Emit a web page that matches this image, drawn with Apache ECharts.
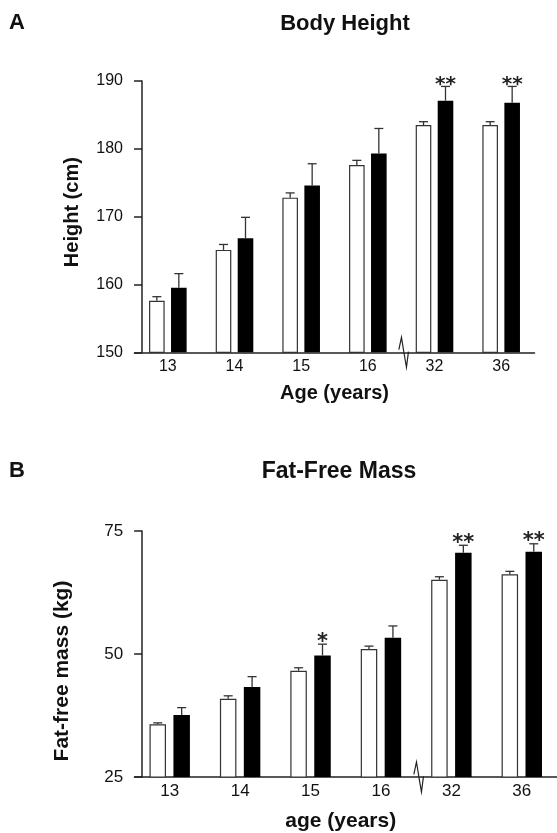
<!DOCTYPE html>
<html>
<head>
<meta charset="utf-8">
<script src="https://cdn.jsdelivr.net/npm/echarts@6/dist/echarts.min.js"></script>
<style>
html,body{margin:0;padding:0;background:#fff;}
#main{width:557px;height:833px;}
</style>
</head>
<body>
<div id="main"></div>
<script>
// ---- data ----
const categories = ['13', '14', '15', '16', '32', '36'];
const heightTicks = [150, 160, 170, 180, 190];
const heightWhite = [157.6, 165.1, 172.8, 177.6, 183.5, 183.5];
const heightWhiteErr = [0.6, 0.8, 0.7, 0.7, 0.5, 0.5];
const heightBlack = [159.5, 166.8, 174.6, 179.3, 187.1, 186.8];
const heightBlackErr = [2.1, 3.1, 3.2, 3.7, 2.1, 2.4];
const heightStars = ['', '', '', '', '**', '**'];
const massTicks = [25, 50, 75];
const massWhite = [35.7, 40.9, 46.6, 51.0, 65.1, 66.2];
const massWhiteErr = [0.3, 0.6, 0.6, 0.6, 0.6, 0.6];
const massBlack = [37.6, 43.3, 49.7, 53.3, 70.6, 70.8];
const massBlackErr = [1.5, 2.1, 2.3, 2.4, 1.5, 1.6];
const massStars = ['', '', '*', '', '**', '**'];

// ---- styles ----
const FONT = 'Liberation Sans, Arial, sans-serif';
const AXIS_COLOR = '#222';
const TOP_BAR_W = 15.6, TOP_GAP = 0.41;
const BOT_BAR_W = 16.5, BOT_GAP = 0.45;

function errData(white, whiteErr, black, blackErr, stars) {
  const d = [];
  white.forEach((v, i) => d.push([i, v, whiteErr[i], 0, '']));
  black.forEach((v, i) => d.push([i, v, blackErr[i], 1, stars[i]]));
  return d;
}

function errRender(barW, gapRatio, fontSize, starData) {
  return function (params, api) {
    const ci = api.value(0), v = api.value(1), e = api.value(2), g = api.value(3);
    const base = api.coord([ci, v]);
    const top = api.coord([ci, v + e]);
    const shift = (barW + barW * gapRatio) / 2 * (g ? 1 : -1);
    const x = base[0] + shift;
    const style = { stroke: '#333', lineWidth: 1.3 };
    const children = [
      { type: 'line', shape: { x1: x, y1: base[1], x2: x, y2: top[1] }, style: style },
      { type: 'line', shape: { x1: x - 4.5, y1: top[1], x2: x + 4.5, y2: top[1] }, style: style }
    ];
    const star = starData[params.dataIndex][4];
    if (star) {
      children.push({ type: 'text', style: { text: star, x: x, y: top[1] - 2, align: 'center', verticalAlign: 'middle', font: 'bold ' + fontSize + 'px DejaVu Sans', fill: '#222' } });
    }
    return { type: 'group', children: children };
  };
}

const heightErr = errData(heightWhite, heightWhiteErr, heightBlack, heightBlackErr, heightStars);
const massErr = errData(massWhite, massWhiteErr, massBlack, massBlackErr, massStars);

const chart = echarts.init(document.getElementById('main'), null, { renderer: 'canvas' });

function yAxisCfg(gi, min, max, interval, name, fs, nfs, namePad, nameGap, offset) {
  return {
    type: 'value', gridIndex: gi, min: min, max: max, interval: interval, offset: offset,
    name: name, nameLocation: 'middle', nameGap: nameGap,
    nameTextStyle: { fontFamily: FONT, fontWeight: 'bold', fontSize: nfs, color: '#111', padding: namePad },
    axisLine: { show: true, lineStyle: { color: AXIS_COLOR, width: 1.5 } },
    axisTick: { show: true, length: 8, lineStyle: { color: AXIS_COLOR, width: 1.5 } },
    axisLabel: { fontFamily: FONT, fontSize: fs, color: '#111', margin: 19 },
    splitLine: { show: false }
  };
}
function xAxisCfg(gi, name, fs, nfs, namePad, nameGap) {
  return {
    type: 'category', gridIndex: gi, data: categories,
    name: name, nameLocation: 'middle', nameGap: nameGap,
    nameTextStyle: { fontFamily: FONT, fontWeight: 'bold', fontSize: nfs, color: '#111', padding: namePad },
    axisLine: { show: true, lineStyle: { color: AXIS_COLOR, width: 1.5 } },
    axisTick: { show: false },
    axisLabel: { fontFamily: FONT, fontSize: fs, color: '#111', margin: 6 },
    splitLine: { show: false }
  };
}

chart.setOption({
  animation: false,
  backgroundColor: '#fff',
  title: [
    { text: 'A', left: 9, top: 12, padding: 0, textStyle: { fontFamily: FONT, fontWeight: 'bold', fontSize: 22, color: '#111' } },
    { text: 'Body Height', left: 345, top: 13, padding: 0, textAlign: 'center', textStyle: { fontFamily: FONT, fontWeight: 'bold', fontSize: 22, color: '#111' } },
    { text: 'B', left: 9, top: 460, padding: 0, textStyle: { fontFamily: FONT, fontWeight: 'bold', fontSize: 22, color: '#111' } },
    { text: 'Fat-Free Mass', left: 339, top: 460, padding: 0, textAlign: 'center', textStyle: { fontFamily: FONT, fontWeight: 'bold', fontSize: 23, color: '#111' } }
  ],
  grid: [
    { left: 134.5, top: 81, width: 400, height: 271.3 },
    { left: 134.5, top: 531, width: 432.6, height: 249 }
  ],
  xAxis: [
    xAxisCfg(0, 'Age (years)', 16, 20, [0, 0, 0, 0], 31),
    xAxisCfg(1, 'age (years)', 17, 21, [0, 10, 0, 0], 34)
  ],
  yAxis: [
    yAxisCfg(0, heightTicks[0], heightTicks[heightTicks.length - 1], heightTicks[1] - heightTicks[0], 'Height (cm)', 16, 20, [0, 0, 0, 9], 60, -7.5),
    yAxisCfg(1, massTicks[0], massTicks[massTicks.length - 1], massTicks[1] - massTicks[0], 'Fat-free mass (kg)', 17, 21, [0, 34, 0, 0], 69, -7.6)
  ],
  series: [
    { type: 'bar', xAxisIndex: 0, yAxisIndex: 0, data: heightWhite, barWidth: TOP_BAR_W, barGap: (TOP_GAP * 100) + '%',
      itemStyle: { color: '#fff', borderColor: '#333', borderWidth: 1.2 } },
    { type: 'bar', xAxisIndex: 0, yAxisIndex: 0, data: heightBlack, barWidth: TOP_BAR_W, barGap: (TOP_GAP * 100) + '%',
      itemStyle: { color: '#000', borderColor: '#000', borderWidth: 0 } },
    { type: 'custom', xAxisIndex: 0, yAxisIndex: 0, data: heightErr, z: 5,
      renderItem: errRender(TOP_BAR_W, TOP_GAP, 20, heightErr) },
    { type: 'bar', xAxisIndex: 1, yAxisIndex: 1, data: massWhite, barWidth: BOT_BAR_W, barGap: (BOT_GAP * 100) + '%',
      itemStyle: { color: '#fff', borderColor: '#333', borderWidth: 1.2 } },
    { type: 'bar', xAxisIndex: 1, yAxisIndex: 1, data: massBlack, barWidth: BOT_BAR_W, barGap: (BOT_GAP * 100) + '%',
      itemStyle: { color: '#000', borderColor: '#000', borderWidth: 0 } },
    { type: 'custom', xAxisIndex: 1, yAxisIndex: 1, data: massErr, z: 5,
      renderItem: errRender(BOT_BAR_W, BOT_GAP, 21, massErr) }
  ]
});

// axis break symbols between '16' and '32'
function breakSymbol(gi, baseVal) {
  const xa = chart.convertToPixel({ xAxisIndex: gi }, '16');
  const xb = chart.convertToPixel({ xAxisIndex: gi }, '32');
  const y = chart.convertToPixel({ yAxisIndex: gi }, baseVal);
  const cx = (xa + xb) / 2 + 2;
  return {
    type: 'polyline', z: 10,
    shape: { points: [[cx - 4.3, y - 2.7], [cx - 1.7, y - 15], [cx + 1, y + 1.7], [cx + 3.3, y + 15], [cx + 5.3, y - 0.7]] },
    style: { stroke: '#222', lineWidth: 1.2, fill: null }
  };
}
chart.setOption({ graphic: [breakSymbol(0, heightTicks[0]), breakSymbol(1, massTicks[0])] });
</script>
</body>
</html>
